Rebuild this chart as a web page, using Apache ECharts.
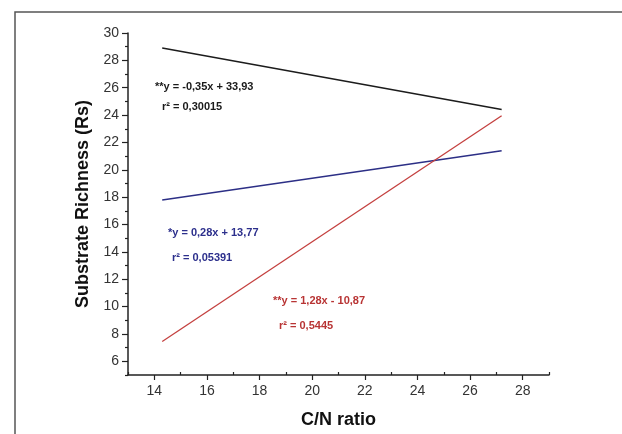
<!DOCTYPE html>
<html>
<head>
<meta charset="utf-8">
<script src="https://cdn.jsdelivr.net/npm/echarts@6/dist/echarts.min.js"></script>
<style>
html,body{margin:0;padding:0;background:#fff;}
#chart{width:622px;height:434px;}
</style>
</head>
<body>
<div id="chart"></div>
<script>
// Data
const cnRatio = [14.3, 27.2];
const blackFit = [28.9, 24.4];
const blueFit = [17.8, 21.4];
const redFit = [7.45, 23.95];
const xTicks = [14, 16, 18, 20, 22, 24, 26, 28];
const xMinorTicks = [13, 15, 17, 19, 21, 23, 25, 27, 29];
const yTicks = [6, 8, 10, 12, 14, 16, 18, 20, 22, 24, 26, 28, 30];
const yMinorTicks = [5, 7, 9, 11, 13, 15, 17, 19, 21, 23, 25, 27, 29];
const labelsBlack = ['**y = -0,35x + 33,93', 'r\u00B2 = 0,30015'];
const labelsBlue = ['*y = 0,28x + 13,77', 'r\u00B2 = 0,05391'];
const labelsRed = ['**y = 1,28x - 10,87', 'r\u00B2 = 0,5445'];

const FONT = '"Liberation Sans", Arial, sans-serif';
const chart = echarts.init(document.getElementById('chart'), null, {renderer: 'canvas'});

function mk(name, ys, color, w) {
  return {
    name: name, type: 'line', showSymbol: false, symbol: 'none',
    data: cnRatio.map((x, i) => [x, ys[i]]),
    lineStyle: {color: color, width: w},
    silent: true, animation: false
  };
}
function txt(x, y, s, color) {
  return {type: 'text', left: x, top: y, silent: true,
    style: {text: s, fill: color, font: 'bold 11px ' + FONT, textVerticalAlign: 'middle'}};
}
const axisCol = '#222';

chart.setOption({
  animation: false,
  backgroundColor: '#fff',
  grid: {left: 128, top: 33, right: 73, bottom: 51, containLabel: false},
  xAxis: [{
    type: 'value', min: 13, max: 29, interval: 1,
    name: 'C/N ratio', nameLocation: 'middle', nameGap: 36,
    nameTextStyle: {fontFamily: FONT, fontSize: 18, fontWeight: 'bold', color: '#111'},
    axisLine: {show: true, lineStyle: {color: axisCol, width: 1.5}},
    axisTick: {show: true, length: 5, customValues: xTicks, lineStyle: {color: axisCol, width: 1.2}},
    splitLine: {show: false},
    axisLabel: {fontFamily: FONT, fontSize: 14, color: '#333', margin: 9, customValues: xTicks},
  }, {
    type: 'value', min: 13, max: 29, interval: 1, position: 'bottom',
    axisLine: {show: false},
    axisTick: {show: true, inside: true, length: 3, customValues: xMinorTicks, lineStyle: {color: axisCol, width: 1.2}},
    axisLabel: {show: false}, splitLine: {show: false}
  }],
  yAxis: [{
    type: 'value', min: 5, max: 30, interval: 1,
    name: 'Substrate Richness (Rs)', nameLocation: 'middle', nameGap: 27,
    nameTextStyle: {fontFamily: FONT, fontSize: 18, fontWeight: 'bold', color: '#111'},
    axisLine: {show: true, lineStyle: {color: axisCol, width: 1.5}},
    axisTick: {show: true, length: 6, customValues: yTicks, lineStyle: {color: axisCol, width: 1.2}},
    splitLine: {show: false},
    axisLabel: {fontFamily: FONT, fontSize: 14, color: '#333', margin: 9, customValues: yTicks},
  }, {
    type: 'value', min: 5, max: 30, interval: 1, position: 'left',
    axisLine: {show: false},
    axisTick: {show: true, length: 3, customValues: yMinorTicks, lineStyle: {color: axisCol, width: 1.2}},
    axisLabel: {show: false}, splitLine: {show: false}
  }],
  series: [
    mk('black', blackFit, '#1c1c1c', 1.5),
    mk('blue', blueFit, '#2c2f86', 1.5),
    mk('red', redFit, '#c4403f', 1.3)
  ],
  graphic: [
    {type: 'rect', silent: true, shape: {x: 15, y: 12, width: 640, height: 460},
      style: {fill: 'none', stroke: '#555', lineWidth: 1.5}},
    txt(155, 81, labelsBlack[0], '#1a1a1a'),
    txt(162, 101, labelsBlack[1], '#1a1a1a'),
    txt(168, 227, labelsBlue[0], '#2c2f8c'),
    txt(172, 252, labelsBlue[1], '#2c2f8c'),
    txt(273, 295, labelsRed[0], '#b83434'),
    txt(279, 320, labelsRed[1], '#b83434')
  ]
});
</script>
</body>
</html>
